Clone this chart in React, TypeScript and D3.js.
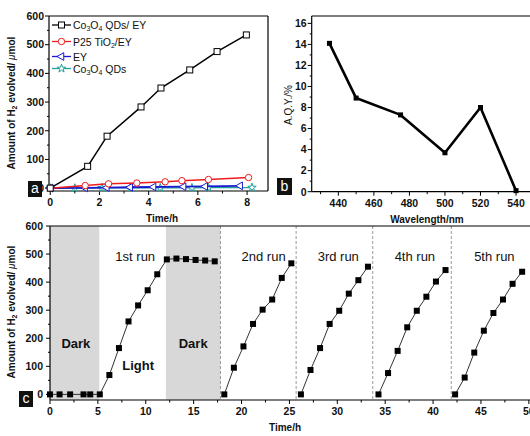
import React from 'react';
import * as d3 from 'd3';

const FONT = '"Liberation Sans", Arial, sans-serif';

// ---- panel a: H2 vs time for the four samples
const coEyTime = [0, 1.52, 2.31, 3.69, 4.5, 5.67, 6.78, 7.97];
const coEyH2 = [0, 76, 181, 283, 349, 412, 476, 534];
const p25Time = [0, 1.42, 2.37, 3.52, 4.67, 5.35, 6.43, 8.06];
const p25H2 = [0, 9, 15, 18, 22, 26, 30, 37];
const eyTime = [0, 1.42, 2.3, 3.25, 4.2, 5.42, 6.3, 7.72];
const eyH2 = [0, 1, 2, 3, 4, 5, 6, 8];
const coTime = [0, 1.0, 2.1, 3.25, 4.47, 5.76, 6.43, 8.2];
const coH2 = [0, 0, 1, 1, 1, 1, 2, 2];
const aXTicks = [0, 2, 4, 6, 8];
const aXMinor = [1, 3, 5, 7];
const aYTicks = [0, 100, 200, 300, 400, 500, 600];

// ---- panel b: AQY vs wavelength
const wavelength = [435, 450, 475, 500, 520, 540];
const aqy = [14.1, 8.9, 7.3, 3.7, 8.0, 0.1];
const bXTicks = [440, 460, 480, 500, 520, 540];
const bYTicks = [0, 2, 4, 6, 8, 10, 12, 14, 16];

// ---- panel c: cycling runs
const firstTime = [0, 1.0, 2.1, 3.5, 4.2, 5.2, 6.2, 7.2, 8.2, 9.2, 10.2, 11.2, 12.2, 13.2, 14.2, 15.2, 16.2, 17.2];
const firstH2 = [0, 0, 0, 0, 0, 0, 69, 165, 260, 317, 371, 428, 481, 484, 482, 479, 477, 474];
const run2Time = [18.2, 19.2, 20.2, 21.2, 22.2, 23.2, 24.2, 25.2];
const run2H2 = [0, 95, 171, 251, 302, 338, 415, 467];
const run3Time = [26.2, 27.2, 28.2, 29.2, 30.2, 31.2, 32.2, 33.2];
const run3H2 = [0, 87, 165, 251, 298, 359, 407, 455];
const run4Time = [34.3, 35.3, 36.3, 37.3, 38.3, 39.3, 40.3, 41.3];
const run4H2 = [0, 76, 155, 239, 298, 348, 402, 443];
const run5Time = [42.3, 43.3, 44.3, 45.3, 46.3, 47.3, 48.3, 49.3];
const run5H2 = [0, 60, 149, 227, 290, 338, 394, 437];
const darkPeriods = [[0, 5.15], [12.1, 17.8]];
const runDividers = [17.8, 25.7, 33.7, 41.9];
const runLabels = ['1st run', '2nd run', '3rd run', '4th run', '5th run'];
const runLabelTimes = [8.9, 22.3, 30.1, 38.1, 46.4];
const cXTicks = [0, 5, 10, 15, 20, 25, 30, 35, 40, 45, 50];
const cYTicks = [0, 100, 200, 300, 400, 500, 600];

const zip = (xs: number[], ys: number[]) => xs.map((x, i) => [x, ys[i]] as [number, number]);

function YAxis({ scale, x, ticks, minor, gap = 5 }: any) {
  const [r0, r1] = scale.range();
  return (
    <g>
      <line x1={x} x2={x} y1={r0} y2={r1} stroke="#000" strokeWidth={1.2} />
      {ticks.map((t: number) => (
        <g key={t}>
          <line x1={x - 4} x2={x} y1={scale(t)} y2={scale(t)} stroke="#000" strokeWidth={1} />
          <text x={x - gap} y={scale(t) + 3.8} textAnchor="end" fontSize={10.5} fontWeight="bold" fill="#111">{t}</text>
        </g>
      ))}
      {minor.map((t: number) => (
        <line key={'m' + t} x1={x - 2} x2={x} y1={scale(t)} y2={scale(t)} stroke="#000" strokeWidth={1} />
      ))}
    </g>
  );
}

function XAxis({ scale, y, ticks, minor }: any) {
  const [r0, r1] = scale.range();
  return (
    <g>
      <line x1={r0} x2={r1} y1={y} y2={y} stroke="#000" strokeWidth={1.2} />
      {ticks.map((t: number) => (
        <g key={t}>
          <line x1={scale(t)} x2={scale(t)} y1={y} y2={y + 4} stroke="#000" strokeWidth={1} />
          <text x={scale(t)} y={y + 15} textAnchor="middle" fontSize={10.5} fontWeight="bold" fill="#111">{t}</text>
        </g>
      ))}
      {minor.map((t: number) => (
        <line key={'m' + t} x1={scale(t)} x2={scale(t)} y1={y} y2={y + 2.5} stroke="#000" strokeWidth={1} />
      ))}
    </g>
  );
}

function LetterBox({ x, y, w, h, letter }: any) {
  return (
    <g>
      <rect x={x} y={y} width={w} height={h} fill="#111" />
      <text x={x + w / 2} y={y + h - 4} textAnchor="middle" fontSize={14} fill="#fff">{letter}</text>
    </g>
  );
}

function H2Label({ x, y }: any) {
  return (
    <text transform={`translate(${x},${y}) rotate(-90)`} textAnchor="middle" fontSize={10} fontWeight="bold" fill="#111">
      Amount of H<tspan fontSize={7} dy={2}>2</tspan><tspan dy={-2}> evolved/ </tspan>
      <tspan fontStyle="italic" fontWeight="normal">μ</tspan>mol
    </text>
  );
}

function PanelA() {
  const x = d3.scaleLinear().domain([-0.05, 8.85]).range([49, 268]);
  const y = d3.scaleLinear().domain([-10, 600]).range([191, 16]);
  const line = d3.line<[number, number]>().x(d => x(d[0])).y(d => y(d[1]));
  const star = d3.symbol().type(d3.symbolStar).size(22)();
  const tri = d3.symbol().type(d3.symbolTriangle).size(26)();
  const series = [
    { name: 'co', pts: zip(coEyTime, coEyH2), color: '#000', w: 1.5 },
    { name: 'p25', pts: zip(p25Time, p25H2), color: '#ee1c1c', w: 1.5 },
    { name: 'ey', pts: zip(eyTime, eyH2), color: '#1a1ad0', w: 1.8 },
    { name: 'qd', pts: zip(coTime, coH2), color: '#1fa39a', w: 1.3 },
  ];
  const marker = (name: string, color: string, cx: number, cy: number, k: string) => {
    if (name === 'co') return <rect key={k} x={cx - 3} y={cy - 3} width={6} height={6} fill="#fff" stroke={color} strokeWidth={1} />;
    if (name === 'p25') return <circle key={k} cx={cx} cy={cy} r={3.2} fill="#fff" stroke={color} strokeWidth={1} />;
    if (name === 'ey') return <path key={k} d={tri!} transform={`translate(${cx},${cy}) rotate(-90)`} fill="#fff" stroke={color} strokeWidth={1} />;
    return <path key={k} d={star!} transform={`translate(${cx},${cy})`} fill="#fff" stroke={color} strokeWidth={1} />;
  };
  const legendRows = [
    { name: 'co', color: '#000', y: 25, label: <>Co<tspan fontSize={7} dy={2}>3</tspan><tspan dy={-2}>O</tspan><tspan fontSize={7} dy={2}>4</tspan><tspan dy={-2}> QDs/ EY</tspan></> },
    { name: 'p25', color: '#ee1c1c', y: 41.5, label: <>P25 TiO<tspan fontSize={7} dy={2}>2</tspan><tspan dy={-2}>/EY</tspan></> },
    { name: 'ey', color: '#1a1ad0', y: 56.5, label: <>EY</> },
    { name: 'qd', color: '#1fa39a', y: 68.5, label: <>Co<tspan fontSize={7} dy={2}>3</tspan><tspan dy={-2}>O</tspan><tspan fontSize={7} dy={2}>4</tspan><tspan dy={-2}> QDs</tspan></> },
  ];
  return (
    <g>
      <line x1={49} x2={268} y1={16} y2={16} stroke="#000" strokeWidth={1.2} />
      <line x1={268} x2={268} y1={16} y2={191} stroke="#000" strokeWidth={1.2} />
      <YAxis scale={y} x={49} ticks={aYTicks} minor={aYTicks.slice(0, -1).map(t => t + 50)} />
      <XAxis scale={x} y={191} ticks={aXTicks} minor={aXMinor} />
      {series.slice().reverse().map(s => (
        <g key={s.name}>
          <path d={line(s.pts)!} fill="none" stroke={s.color} strokeWidth={s.w} />
          {s.pts.map((p, i) => marker(s.name, s.color, x(p[0]), y(p[1]), s.name + i))}
        </g>
      ))}
      {legendRows.map(r => (
        <g key={'lg' + r.name}>
          <line x1={52} x2={71} y1={r.y} y2={r.y} stroke={r.color} strokeWidth={1.3} />
          {marker(r.name, r.color, 61.5, r.y, 'lgm' + r.name)}
          <text x={73} y={r.y + 4} fontSize={10.5} fill="#111">{r.label}</text>
        </g>
      ))}
      <H2Label x={15} y={103} />
      <text x={162} y={222} textAnchor="middle" fontSize={10} fontWeight="bold" fill="#111">Time/h</text>
      <LetterBox x={28} y={181} w={14} h={16} letter="a" />
    </g>
  );
}

function PanelB() {
  const x = d3.scaleLinear().domain([425, 550]).range([311.7, 533.8]);
  const y = d3.scaleLinear().domain([0, 16.7]).range([191.7, 16]);
  const line = d3.line<[number, number]>().x(d => x(d[0])).y(d => y(d[1]));
  const pts = zip(wavelength, aqy);
  return (
    <g>
      <line x1={311.7} x2={533.8} y1={16} y2={16} stroke="#000" strokeWidth={1.2} />
      <YAxis scale={y} x={311.7} ticks={bYTicks} minor={bYTicks.slice(0, -1).map(t => t + 1)} />
      <XAxis scale={x} y={191.7} ticks={bXTicks} minor={[430, 450, 470, 490, 510, 530]} />
      <path d={line(pts)!} fill="none" stroke="#000" strokeWidth={2.6} strokeLinejoin="round" />
      {pts.map((p, i) => (
        <rect key={i} x={x(p[0]) - 2.5} y={y(p[1]) - 2.5} width={5} height={5} fill="#000" />
      ))}
      <text transform={`translate(292,105) rotate(-90)`} textAnchor="middle" fontSize={10} fill="#111">A.Q.Y./%</text>
      <text x={427} y={223} textAnchor="middle" fontSize={10} fontWeight="bold" fill="#111">Wavelength/nm</text>
      <LetterBox x={277} y={178} w={15} h={17} letter="b" />
    </g>
  );
}

function PanelC() {
  const x = d3.scaleLinear().domain([0, 52]).range([50, 548]);
  const y = d3.scaleLinear().domain([-20, 600]).range([400, 226]);
  const line = d3.line<[number, number]>().x(d => x(d[0])).y(d => y(d[1]));
  const runs = [zip(firstTime, firstH2), zip(run2Time, run2H2), zip(run3Time, run3H2), zip(run4Time, run4H2), zip(run5Time, run5H2)];
  const minorX = cXTicks.map(t => t + 2.5);
  return (
    <g>
      {darkPeriods.map((d, i) => (
        <rect key={i} x={x(d[0])} y={226} width={x(d[1]) - x(d[0])} height={400 - 226} fill="#d8d8d8" />
      ))}
      {runDividers.map(t => (
        <line key={t} x1={x(t)} x2={x(t)} y1={226} y2={400} stroke="#999" strokeWidth={1} strokeDasharray="3,2" />
      ))}
      <line x1={50} x2={548} y1={226} y2={226} stroke="#000" strokeWidth={1.2} />
      <YAxis scale={y} x={50} ticks={cYTicks} minor={cYTicks.slice(0, -1).map(t => t + 50)} gap={7} />
      <XAxis scale={x} y={400} ticks={cXTicks} minor={minorX} />
      {runs.map((pts, ri) => (
        <g key={ri}>
          <path d={line(pts)!} fill="none" stroke="#333" strokeWidth={1} />
          {pts.map((p, i) => (
            <rect key={i} x={x(p[0]) - 3} y={y(p[1]) - 3} width={6} height={6} fill="#000" />
          ))}
        </g>
      ))}
      {runLabels.map((l, i) => (
        <text key={l} x={x(runLabelTimes[i])} y={261} textAnchor="middle" fontSize={13} fill="#111">{l}</text>
      ))}
      <text x={x(2.7)} y={348} textAnchor="middle" fontSize={13} fontWeight="bold" fill="#111">Dark</text>
      <text x={x(14.95)} y={348} textAnchor="middle" fontSize={13} fontWeight="bold" fill="#111">Dark</text>
      <text x={x(9.2)} y={370} textAnchor="middle" fontSize={13} fontWeight="bold" fill="#111">Light</text>
      <H2Label x={15} y={312} />
      <text x={285} y={431} textAnchor="middle" fontSize={10} fontWeight="bold" fill="#111">Time/h</text>
      <LetterBox x={19} y={391} w={14} h={16} letter="c" />
    </g>
  );
}

export default function App() {
  return (
    <svg width={530} height={436} style={{ display: 'block', position: 'absolute', left: 0, top: 0, background: '#fff' }} fontFamily={FONT}>
      <rect width={530} height={436} fill="#fff" />
      <PanelA />
      <PanelB />
      <PanelC />
    </svg>
  );
}
